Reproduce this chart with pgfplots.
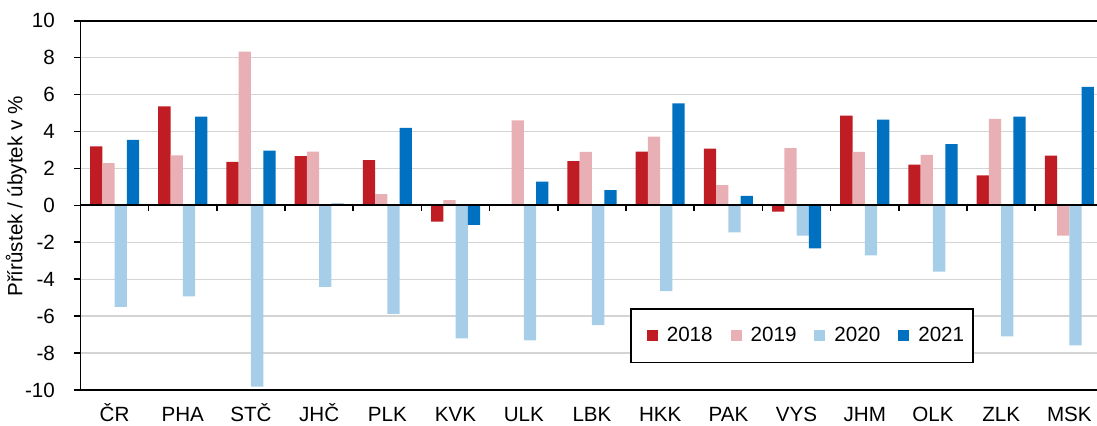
\documentclass[border=0pt]{standalone}
\usepackage{pgfplots}
\pgfplotsset{compat=1.18}
\usepackage{fontspec}
\setmainfont{Liberation Sans}
\definecolor{c18}{RGB}{192,28,36}
\definecolor{c19}{RGB}{232,176,180}
\definecolor{c20}{RGB}{166,206,232}
\definecolor{c21}{RGB}{0,112,192}
\definecolor{gridc}{RGB}{212,212,212}
\begin{document}
\begin{tikzpicture}
\useasboundingbox (-40.25pt,-17.5pt) rectangle (508.25pt,195pt);
\begin{axis}[
  scale only axis,
  width=508.25pt, height=184.65pt,
  ybar=0pt, bar width=0.18,
  xmin=-0.5, xmax=14.405,
  ymin=-10, ymax=10,
  ytick={-10,-8,...,10},
  xtick={0,...,14},
  xticklabels={ČR,PHA,STČ,JHČ,PLK,KVK,ULK,LBK,HKK,PAK,VYS,JHM,OLK,ZLK,MSK},
  axis x line*=box,
  axis y line*=left,
  axis line style={black, line width=0.9pt},
  x tick style={draw=none},
  y tick style={black, line width=0.8pt},
  ytick align=outside,
  major tick length=3pt,
  ymajorgrids,
  major grid style={gridc, line width=0.7pt},
  tick label style={font=\fontsize{10.3}{12}\selectfont},
  /pgf/number format/assume math mode=true,
  yticklabel style={anchor=east, xshift=-6.3pt},
  xticklabel style={anchor=base, yshift=-12.5pt},
  ylabel={Přírůstek / úbytek v \%},
  ylabel style={font=\fontsize{10.3}{12}\selectfont, at={(axis description cs:-0.0633,0.524)}, anchor=center},
  legend columns=4,
  legend image code/.code={\path (0pt,0pt); \fill[#1] (3.5pt,-2.75pt) rectangle (9pt,2.75pt);},
  legend style={at={(0.5406,0.072)}, anchor=south west, draw=black, line width=0.8pt,
    font=\fontsize{10.3}{12}\selectfont, inner xsep=4.5pt, inner ysep=9pt,
    nodes={inner sep=0pt},
    /tikz/every even column/.append style={column sep=5.5pt},
    /tikz/every odd column/.append style={column sep=4.5pt}},
]
\addplot[fill=c18, draw=none] coordinates {(0,3.19) (1,5.36) (2,2.36) (3,2.67) (4,2.45) (5,-0.88) (6,0) (7,2.40) (8,2.91) (9,3.07) (10,-0.34) (11,4.86) (12,2.20) (13,1.62) (14,2.69)};
\addplot[fill=c19, draw=none] coordinates {(0,2.29) (1,2.71) (2,8.32) (3,2.91) (4,0.61) (5,0.29) (6,4.60) (7,2.89) (8,3.72) (9,1.10) (10,3.10) (11,2.89) (12,2.73) (13,4.68) (14,-1.64)};
\addplot[fill=c20, draw=none] coordinates {(0,-5.50) (1,-4.93) (2,-9.82) (3,-4.42) (4,-5.88) (5,-7.20) (6,-7.31) (7,-6.48) (8,-4.64) (9,-1.46) (10,-1.64) (11,-2.71) (12,-3.59) (13,-7.09) (14,-7.58)};
\addplot[fill=c21, draw=none] coordinates {(0,3.54) (1,4.80) (2,2.96) (3,0.09) (4,4.19) (5,-1.06) (6,1.28) (7,0.83) (8,5.52) (9,0.51) (10,-2.33) (11,4.64) (12,3.32) (13,4.80) (14,6.41)};
\legend{2018,2019,2020,2021}
\draw[black, line width=1pt] (axis cs:-0.5,0) -- (axis cs:14.405,0);
\pgfplotsinvokeforeach{0.5,1.5,...,13.5}{\draw[black, line width=0.8pt] (axis cs:#1,0) -- ++(0pt,-3pt);}
\end{axis}
\end{tikzpicture}
\end{document}
